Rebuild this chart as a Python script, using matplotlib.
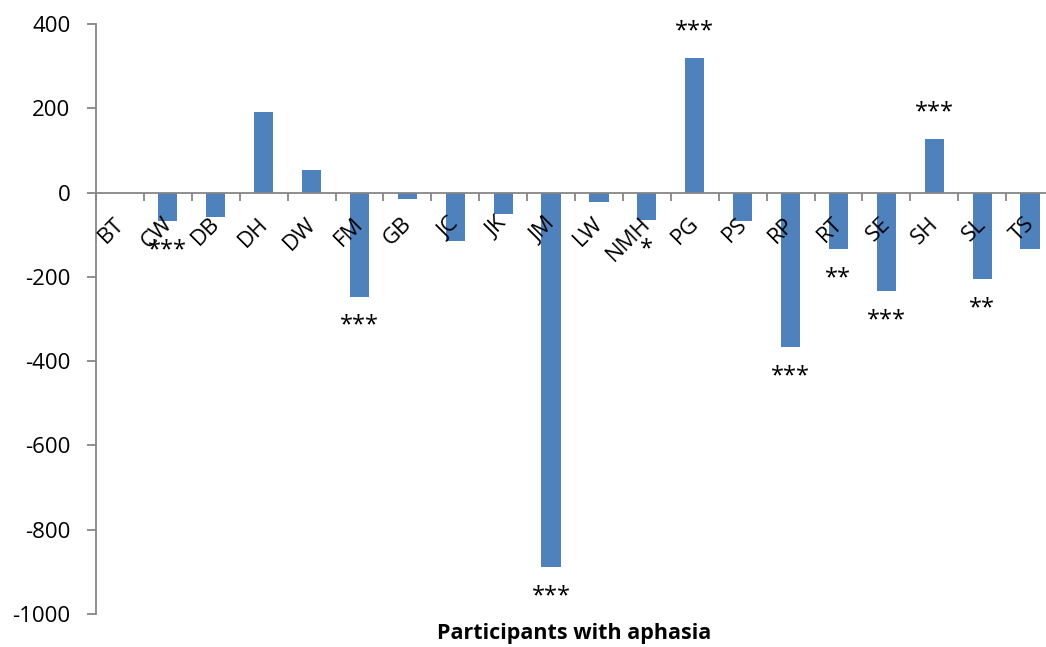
import matplotlib
matplotlib.use("Agg")
import matplotlib.pyplot as plt
import matplotlib.transforms as mtransforms
import numpy as np

plt.rcParams['font.family'] = ['Open Sans', 'DejaVu Sans']
plt.rcParams['axes.unicode_minus'] = False

# data
participants = ['BT', 'CW', 'DB', 'DH', 'DW', 'FM', 'GB', 'JC', 'JK', 'JM',
                'LW', 'NMH', 'PG', 'PS', 'RP', 'RT', 'SE', 'SH', 'SL', 'TS']
values = [0, -68, -59, 191, 54, -247, -16, -116, -50, -888,
          -22, -66, 320, -68, -366, -134, -233, 127, -205, -133]
significance = ['', '***', '', '', '', '***', '', '', '', '***',
                '', '*', '***', '', '***', '**', '***', '***', '**', '']

bar_color = '#4F81BD'
axis_grey = '#868686'

fig = plt.figure(figsize=(10.46, 6.47), dpi=100)
ax = fig.add_axes([96 / 1046, 1 - 614 / 647, 958 / 1046, 590 / 647])

x = np.arange(len(participants))
ax.bar(x, values, width=0.4, color=bar_color, zorder=1)

ax.set_xlim(-0.5, len(participants) - 0.5)
ax.set_ylim(-1000, 400)
ax.set_yticks(np.arange(-1000, 401, 200))

# spines
for side in ['top', 'right']:
    ax.spines[side].set_visible(False)
ax.spines['left'].set_color(axis_grey)
ax.spines['left'].set_linewidth(1.3)
ax.spines['bottom'].set_position(('data', 0))
ax.spines['bottom'].set_color(axis_grey)
ax.spines['bottom'].set_linewidth(1.3)

# y ticks
ax.tick_params(axis='y', direction='out', length=6.5, width=1.3,
               color=axis_grey, labelsize=16, pad=12)

# x ticks: marks at category boundaries, labels at centres
ax.set_xticks(x)
ax.set_xticklabels(participants, rotation=45, ha='right', va='top')
ax.set_xticks(np.arange(-0.5, len(participants)), minor=True)
ax.tick_params(axis='x', which='major', length=0, labelsize=16, pad=15)
ax.tick_params(axis='x', which='minor', direction='out', length=5.8,
               width=1.3, color=axis_grey)
shift = mtransforms.ScaledTranslation(6 / 72, 0, fig.dpi_scale_trans)
for lab in ax.get_xticklabels():
    lab.set_transform(lab.get_transform() + shift)
ax.xaxis.set_zorder(2.5)

# significance stars
for xi, v, s in zip(x, values, significance):
    if not s:
        continue
    off = 19 if v > 0 else -21
    ax.annotate(s, (xi, v), xytext=(0, off), textcoords='offset points',
                ha='center', va='center', fontsize=17, zorder=3)

fig.text(574 / 1046, 1 - 634 / 647, 'Participants with aphasia',
         ha='center', va='center', fontsize=15.5, fontweight='bold')

fig.savefig('out.png', dpi=100)
